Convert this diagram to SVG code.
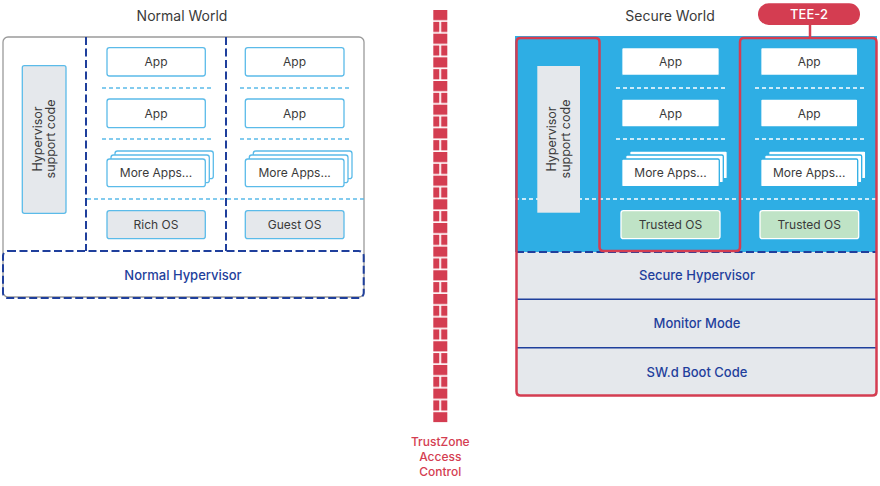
<svg xmlns="http://www.w3.org/2000/svg" width="880" height="486" viewBox="0 0 880 486">
<style>
text{font-family:Inter,"Noto Sans","Liberation Sans",sans-serif;}
.t{font-size:12px;fill:#3a3a3a;text-anchor:middle;dominant-baseline:central;}
.rt{font-size:12.5px;fill:#3a3a3a;text-anchor:middle;}
.title{font-size:14px;fill:#3a3a3a;text-anchor:middle;}
.bl{font-size:13px;fill:#1f3f9c;text-anchor:middle;dominant-baseline:central;font-weight:500;}
.red{font-size:12px;fill:#d43d51;text-anchor:middle;font-weight:500;}
.app{fill:#fff;stroke:#5bbbe9;stroke-width:1.3;}
.os{fill:#e5e8ec;stroke:#5bbbe9;stroke-width:1.3;}
.sapp{fill:#fff;stroke:#2eaee4;stroke-width:1.3;}
.tos{fill:#bfe3c6;stroke:#fff;stroke-width:1.3;}
.dv{stroke:#1f3f9c;stroke-width:2;stroke-dasharray:8 3.5;fill:none;}
.lb{stroke:#5bbbe9;stroke-width:1.6;stroke-dasharray:4 3;fill:none;}
.wd{stroke:#fff;stroke-width:1.6;stroke-dasharray:4 3;fill:none;}
.sep{stroke:#1f3f9c;stroke-width:1.5;}
</style>
<defs>
<pattern id="bricks" patternUnits="userSpaceOnUse" x="433.3" y="10" width="14" height="23.66">
<rect x="0" y="0" width="14" height="10.2" fill="#d43d51"/>
<rect x="0" y="11.83" width="6" height="10.2" fill="#d43d51"/>
<rect x="7.8" y="11.83" width="6.2" height="10.2" fill="#d43d51"/>
</pattern>
</defs>
<rect width="880" height="486" fill="#fff"/>

<!-- Normal World -->
<g id="normal-world">
<text class="title" x="182" y="21">Normal World</text>
<rect x="3" y="37" width="361" height="260" rx="5" fill="#fff" stroke="#9a9a9a" stroke-width="1.3"/>
</g>
<g id="nw-hyp-support">
<rect x="22.3" y="65.7" width="43.7" height="147.6" rx="2" class="os"/>
<text class="rt" transform="translate(44,139) rotate(-90)"><tspan x="0" y="-2.5">Hypervisor</tspan><tspan x="0" y="11">support code</tspan></text>
</g>
<g id="nw-dividers">
<line class="dv" x1="86" y1="37" x2="86" y2="251"/>
<line class="dv" x1="226" y1="37" x2="226" y2="251"/>
<line class="lb" x1="102" y1="88" x2="212" y2="88"/>
<line class="lb" x1="102" y1="139" x2="212" y2="139"/>
<line class="lb" x1="240" y1="88" x2="350" y2="88"/>
<line class="lb" x1="240" y1="139" x2="350" y2="139"/>
<line class="lb" x1="87" y1="199" x2="364" y2="199"/>
</g>
<g id="nw-app1"><rect class="app" x="107" y="47.7" width="98.3" height="28.3" rx="2.5"/><text class="t" x="156" y="61.8">App</text></g>
<g id="nw-app2"><rect class="app" x="107" y="99" width="98.3" height="28.7" rx="2.5"/><text class="t" x="156" y="113.3">App</text></g>
<g id="nw-more1">
<rect class="app" x="115" y="151" width="98.3" height="27.7" rx="2.5"/>
<rect class="app" x="111" y="155" width="98.3" height="27.7" rx="2.5"/>
<rect class="app" x="107" y="159" width="98.3" height="27.7" rx="2.5"/>
<text class="t" x="156" y="172.8">More Apps...</text>
</g>
<g id="nw-richos"><rect class="os" x="107" y="210.7" width="98.3" height="28" rx="2.5"/><text class="t" x="156" y="224.7">Rich OS</text></g>
<g id="nw-app3"><rect class="app" x="245.3" y="47.7" width="98.7" height="28.3" rx="2.5"/><text class="t" x="294.6" y="61.8">App</text></g>
<g id="nw-app4"><rect class="app" x="245.3" y="99" width="98.7" height="28.7" rx="2.5"/><text class="t" x="294.6" y="113.3">App</text></g>
<g id="nw-more2">
<rect class="app" x="253.3" y="151" width="98.7" height="27.7" rx="2.5"/>
<rect class="app" x="249.3" y="155" width="98.7" height="27.7" rx="2.5"/>
<rect class="app" x="245.3" y="159" width="98.7" height="27.7" rx="2.5"/>
<text class="t" x="294.6" y="172.8">More Apps...</text>
</g>
<g id="nw-guestos"><rect class="os" x="245.3" y="210.7" width="98.7" height="28" rx="2.5"/><text class="t" x="294.6" y="224.7">Guest OS</text></g>
<g id="normal-hypervisor">
<rect x="3" y="251" width="360.7" height="47" rx="5" fill="#e5e8ec" class="dv"/>
<text class="bl" x="183" y="274.5">Normal Hypervisor</text>
</g>

<!-- TrustZone wall -->
<g id="trustzone">
<rect x="433.3" y="10" width="14" height="412.3" fill="url(#bricks)"/>
<text class="red" x="440.3" y="445.5"><tspan x="440.3">TrustZone</tspan><tspan x="440.3" dy="15">Access</tspan><tspan x="440.3" dy="15">Control</tspan></text>
</g>

<!-- Secure World -->
<g id="secure-world">
<text class="title" x="670" y="21">Secure World</text>
<rect x="515" y="36" width="362" height="216" fill="#2eaee4"/>
<rect x="516" y="252" width="361" height="144" fill="#e5e8ec"/>
<line class="wd" x1="515" y1="199" x2="877" y2="199"/>
<line class="wd" x1="616" y1="88" x2="726" y2="88"/>
<line class="wd" x1="616" y1="139" x2="726" y2="139"/>
<line class="wd" x1="755" y1="88" x2="865" y2="88"/>
<line class="wd" x1="755" y1="139" x2="865" y2="139"/>
</g>
<g id="sw-hyp-support">
<rect x="537.3" y="66" width="42.7" height="146.7" fill="#e5e8ec"/>
<text class="rt" transform="translate(558.7,139) rotate(-90)"><tspan x="0" y="-2.5">Hypervisor</tspan><tspan x="0" y="11">support code</tspan></text>
</g>
<g id="sw-app1"><rect class="sapp" x="621.7" y="47.7" width="97.6" height="27.7" rx="1.5"/><text class="t" x="670.5" y="61.5">App</text></g>
<g id="sw-app2"><rect class="sapp" x="621.7" y="99" width="97.6" height="28" rx="1.5"/><text class="t" x="670.5" y="113">App</text></g>
<g id="sw-more1">
<rect class="sapp" x="629.7" y="151" width="97.6" height="27.7" rx="1.5"/>
<rect class="sapp" x="625.7" y="155" width="97.6" height="27.7" rx="1.5"/>
<rect class="sapp" x="621.7" y="159" width="97.6" height="27.7" rx="1.5"/>
<text class="t" x="670.5" y="172.8">More Apps...</text>
</g>
<g id="sw-tos1"><rect class="tos" x="621" y="210.7" width="99" height="28" rx="2.5"/><text class="t" x="670.5" y="224.7">Trusted OS</text></g>
<g id="sw-app3"><rect class="sapp" x="760.7" y="47.7" width="97" height="27.7" rx="1.5"/><text class="t" x="809.2" y="61.5">App</text></g>
<g id="sw-app4"><rect class="sapp" x="760.7" y="99" width="97" height="28" rx="1.5"/><text class="t" x="809.2" y="113">App</text></g>
<g id="sw-more2">
<rect class="sapp" x="768.7" y="151" width="97" height="27.7" rx="1.5"/>
<rect class="sapp" x="764.7" y="155" width="97" height="27.7" rx="1.5"/>
<rect class="sapp" x="760.7" y="159" width="97" height="27.7" rx="1.5"/>
<text class="t" x="809.2" y="172.8">More Apps...</text>
</g>
<g id="sw-tos2"><rect class="tos" x="760" y="210.7" width="98.7" height="28" rx="2.5"/><text class="t" x="809.2" y="224.7">Trusted OS</text></g>
<g id="secure-hypervisor">
<line class="dv" x1="516" y1="252" x2="877" y2="252"/>
<text class="bl" x="697" y="274.5">Secure Hypervisor</text>
</g>
<g id="monitor-mode">
<line class="sep" x1="516" y1="299.3" x2="877" y2="299.3"/>
<text class="bl" x="697" y="322.5">Monitor Mode</text>
</g>
<g id="boot-code">
<line class="sep" x1="516" y1="347.7" x2="877" y2="347.7"/>
<text class="bl" x="697" y="371.7">SW.d Boot Code</text>
</g>
<g id="tee-outline">
<path d="M 520.5 38 H 595.5 Q 599.5 38 599.5 42 V 247 Q 599.5 251 603.5 251 H 736 Q 740 251 740 247 V 42 Q 740 38 744 38 H 872.5 Q 876.5 38 876.5 42 V 391.5 Q 876.5 395.5 872.5 395.5 H 520.5 Q 516.5 395.5 516.5 391.5 V 42 Q 516.5 38 520.5 38 Z" fill="none" stroke="#d43d51" stroke-width="2.5"/>
</g>
<g id="tee2-label">
<rect x="758" y="3.3" width="102" height="21.7" rx="10.8" fill="#d43d51"/>
<text x="809" y="14.2" style="font-size:13px;fill:#fff;text-anchor:middle;dominant-baseline:central;font-weight:500">TEE-2</text>
</g>
<g id="connectors">
<line x1="810" y1="25" x2="810" y2="38" stroke="#d43d51" stroke-width="2.5"/>
</g>
</svg>
